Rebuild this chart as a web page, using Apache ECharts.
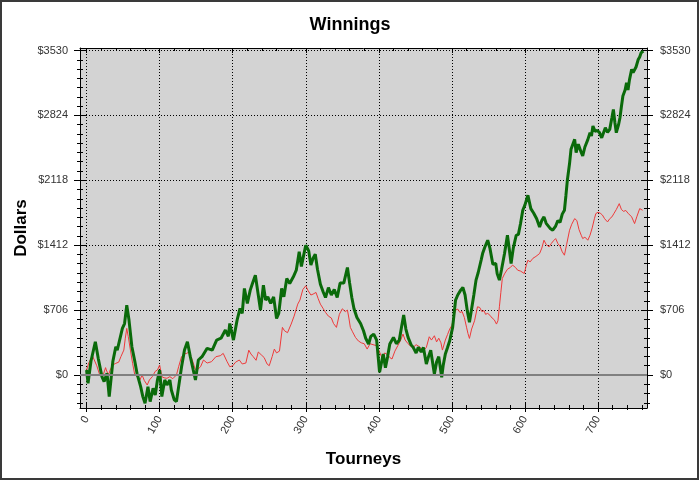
<!DOCTYPE html>
<html><head><meta charset="utf-8">
<script src="https://cdn.jsdelivr.net/npm/echarts@6/dist/echarts.min.js"></script>
<style>html,body{margin:0;padding:0;background:#fff}#c{width:700px;height:481px}</style>
</head><body><div id="c"></div>
<script>
const chartTitle = 'Winnings';
const xName = 'Tourneys';
const yName = 'Dollars';
const xTicks = [0, 100, 200, 300, 400, 500, 600, 700];
const yTicks = [0, 706, 1412, 2118, 2824, 3530];
const xRange = [-9, 767];
const yRange = [-359, 3557];

const greenT = [0,2,6,12,16,21,24,28,31,36,40,42,49,52,55,58,62,66,69,74,77,80,84,87,91,94,97,100,103,107,110,114,116,120,123,130,134,138,142,146,149,153,158,165,172,178,184,190,194,196,201,206,210,213,216,220,224,227,231,234,238,242,245,248,252,256,260,263,267,270,274,278,283,287,291,294,296,300,304,307,310,313,316,320,324,327,331,335,339,343,347,352,357,360,363,366,370,375,379,382,386,389,393,397,401,404,406,409,412,415,420,424,428,431,434,437,440,444,447,451,454,458,461,465,468,471,476,479,482,486,488,491,494,497,501,505,508,512,515,518,521,524,527,530,533,536,540,542,545,549,552,556,560,562,565,568,572,576,578,581,584,588,591,594,597,600,604,608,612,616,620,623,626,629,632,635,638,642,645,648,651,654,656,658,661,663,666,668,670,673,675,677,679,682,686,689,691,693,696,699,702,705,707,710,713,716,719,721,723,725,728,730,732,734,737,739,741,743,746,748,750,752,755,757,759,762];
const greenV = [54,-90,150,362,180,-18,-72,18,-235,150,308,270,507,560,760,600,308,150,18,-127,-235,-308,-127,-290,-145,-217,-54,54,-235,-54,-109,-54,-163,-271,-290,90,271,362,199,54,-54,163,199,290,271,380,400,489,420,560,380,597,724,670,941,778,923,995,1086,923,706,977,815,850,778,850,615,670,941,850,1050,995,1068,1140,1340,1180,1260,1412,1350,1195,1270,1314,1150,988,900,843,950,870,930,843,1000,1000,1169,1000,843,720,626,560,481,400,337,420,445,380,29,150,228,80,200,337,409,340,380,520,652,500,409,330,300,240,300,250,300,119,200,270,11,140,200,-25,100,228,300,373,518,815,870,923,952,870,700,575,720,870,1032,1115,1250,1321,1390,1466,1380,1205,1213,1100,1032,1150,1321,1520,1400,1213,1380,1520,1530,1650,1792,1850,1955,1810,1760,1700,1611,1680,1720,1650,1620,1590,1575,1620,1680,1660,1750,1792,1950,2118,2300,2455,2520,2563,2420,2510,2491,2420,2382,2480,2560,2636,2600,2708,2650,2660,2636,2580,2600,2690,2640,2672,2800,2889,2750,2636,2720,2799,2920,3034,3100,3179,3100,3210,3324,3290,3269,3350,3432,3460,3505,3523];

const redT = [0,3,5,8,10,14,18,22,26,27,30,33,36,40,44,47,51,53,55,57,60,63,66,69,73,76,79,83,86,90,94,97,100,103,106,110,114,118,120,123,126,130,134,137,140,143,146,149,152,156,160,165,171,177,183,187,192,196,200,204,209,213,218,222,225,228,232,235,239,243,247,250,254,257,260,264,268,271,275,280,284,289,292,296,300,303,307,310,314,317,320,324,327,331,335,338,342,346,350,354,357,359,361,364,368,372,376,380,384,388,392,397,401,404,408,412,415,418,422,426,430,433,436,440,444,447,451,455,458,461,465,469,472,476,479,482,485,487,488,491,494,497,500,503,505,508,511,514,517,520,522,524,527,531,535,538,541,544,546,549,552,555,558,561,563,565,567,569,572,576,580,583,587,590,594,599,602,604,607,611,615,620,623,626,629,633,636,639,642,645,648,651,654,657,661,664,668,671,674,677,679,682,686,689,692,695,697,700,703,706,709,713,716,719,722,725,729,732,735,738,741,743,746,750,753,757,761];
const redV = [54,130,163,210,199,100,0,-18,80,54,0,70,110,127,140,200,271,400,507,420,271,127,0,-18,-54,0,-60,-109,-54,-18,40,54,109,-18,-30,-36,-18,-40,-54,0,90,200,230,235,250,200,130,54,60,90,163,130,145,199,210,235,150,90,100,140,163,120,130,270,228,200,160,250,220,190,120,101,200,282,240,260,518,480,460,554,640,771,815,930,970,920,870,880,898,830,771,720,681,640,620,560,518,660,720,690,706,620,518,470,409,370,350,340,282,340,330,319,250,192,240,220,190,174,260,320,380,445,380,340,310,300,330,310,290,264,300,416,380,427,360,400,350,271,264,380,440,500,540,650,706,717,680,690,626,520,450,398,500,590,742,735,690,700,660,670,650,620,600,554,590,742,900,1050,1100,1150,1170,1195,1170,1140,1130,1104,1200,1249,1230,1270,1290,1321,1380,1466,1420,1394,1430,1460,1484,1430,1400,1340,1303,1420,1575,1640,1701,1680,1580,1520,1484,1500,1466,1520,1600,1700,1756,1770,1760,1740,1700,1665,1700,1720,1760,1800,1864,1800,1780,1790,1760,1756,1720,1647,1720,1810,1792];

const FONT = '"Liberation Sans", Arial, sans-serif';
const xMinor = [];
for (let t = 0; t <= xRange[1]; t += 20) xMinor.push(t);
const yStep = yTicks[1] / 7;
const yMinor = [];
for (let k = Math.ceil(yRange[0] / yStep); k * yStep <= yRange[1]; k++) yMinor.push(+(k * yStep).toFixed(3));

function axisBase(range, pos, extra) {
  const a = Object.assign({
    type: 'value', position: pos, min: range[0], max: range[1],
    axisLine: { show: false }, axisLabel: { show: false },
    splitLine: { show: false }, axisTick: { show: false }
  }, extra);
  a.axisLine = Object.assign({ onZero: false }, a.axisLine);
  return a;
}
function tickAxes(range, pos, major, minor, majOut, majIn, minOut, minIn) {
  const list = [];
  const tk = (vals, inside, len) => axisBase(range, pos, {
    axisTick: { show: true, inside: inside, length: len, customValues: vals, lineStyle: { color: '#000', width: 1 } },
    axisLabel: { show: false, customValues: vals }
  });
  if (majOut) list.push(tk(major, false, majOut));
  if (majIn) list.push(tk(major, true, majIn));
  if (minOut) list.push(tk(minor, false, minOut));
  if (minIn) list.push(tk(minor, true, minIn));
  return list;
}

const gridLine = { show: true, lineStyle: { color: '#000', width: 1, type: [1, 2] } };

const xAxes = [
  axisBase(xRange, 'bottom', {
    name: xName, nameLocation: 'middle', nameGap: 43,
    nameTextStyle: { fontFamily: FONT, fontSize: 17, fontWeight: 'bold', color: '#000' },
    axisLine: { show: true, lineStyle: { color: '#000', width: 1 } },
    axisTick: { show: false, customValues: xTicks },
    axisLabel: { show: true, customValues: xTicks, rotate: 60, margin: 9, fontFamily: FONT, fontSize: 11, color: '#333' },
    splitLine: gridLine
  }),
  axisBase(xRange, 'top', { axisLine: { show: true, lineStyle: { color: '#000', width: 1 } } })
].concat(
  tickAxes(xRange, 'bottom', xTicks, xMinor, 4, 5, 2, 3),
  tickAxes(xRange, 'top', xTicks, xMinor, 0, 5, 0, 3)
);

const yFmt = v => '$' + Math.round(v);
const yAxes = [
  axisBase(yRange, 'left', {
    name: yName, nameLocation: 'middle', nameGap: 50, nameRotate: 90, nameMoveOverlap: false,
    nameTextStyle: { fontFamily: FONT, fontSize: 17, fontWeight: 'bold', color: '#000' },
    axisLine: { show: true, lineStyle: { color: '#000', width: 1 } },
    axisTick: { show: false, customValues: yTicks },
    axisLabel: { show: true, customValues: yTicks, margin: 12, formatter: yFmt, fontFamily: FONT, fontSize: 11, color: '#333' },
    splitLine: gridLine
  }),
  axisBase(yRange, 'right', {
    axisLine: { show: true, lineStyle: { color: '#000', width: 1 } },
    axisTick: { show: false, customValues: yTicks },
    axisLabel: { show: true, customValues: yTicks, margin: 13, formatter: yFmt, fontFamily: FONT, fontSize: 11, color: '#333' }
  })
].concat(
  tickAxes(yRange, 'left', yTicks, yMinor, 6, 6, 3, 3),
  tickAxes(yRange, 'right', yTicks, yMinor, 6, 6, 3, 3)
);

const pairs = (ts, vs) => ts.map((t, i) => [t, vs[i]]);

const chart = echarts.init(document.getElementById('c'), null, { renderer: 'canvas' });
chart.setOption({
  animation: false,
  backgroundColor: '#fff',
  title: {
    text: chartTitle, left: 'center', top: 11,
    textStyle: { fontFamily: FONT, fontSize: 18, fontWeight: 'bold', color: '#000' }
  },
  grid: { left: 80, right: 53, top: 48, bottom: 73, show: true, backgroundColor: '#d3d3d3', borderWidth: 0 },
  xAxis: xAxes,
  yAxis: yAxes,
  graphic: [{
    type: 'rect', silent: true, z: 100,
    shape: { x: 1, y: 1, width: 697, height: 478 },
    style: { fill: 'none', stroke: '#3a3a3a', lineWidth: 2 }
  }],
  series: [
    {
      type: 'line', name: 'zero', xAxisIndex: 0, yAxisIndex: 0, data: [], z: 2,
      markLine: {
        silent: true, symbol: ['none', 'none'], label: { show: false },
        lineStyle: { color: '#808080', width: 2, type: 'solid' },
        data: [{ yAxis: 0 }]
      }
    },
    {
      type: 'line', name: 'red', xAxisIndex: 0, yAxisIndex: 0,
      data: pairs(redT, redV), showSymbol: false, symbol: 'none',
      lineStyle: { color: '#ee3a3a', width: 1 }, z: 3
    },
    {
      type: 'line', name: 'green', xAxisIndex: 0, yAxisIndex: 0,
      data: pairs(greenT, greenV), showSymbol: false, symbol: 'none',
      lineStyle: { color: '#0a6a0a', width: 3 }, z: 4
    }
  ]
});
</script></body></html>
